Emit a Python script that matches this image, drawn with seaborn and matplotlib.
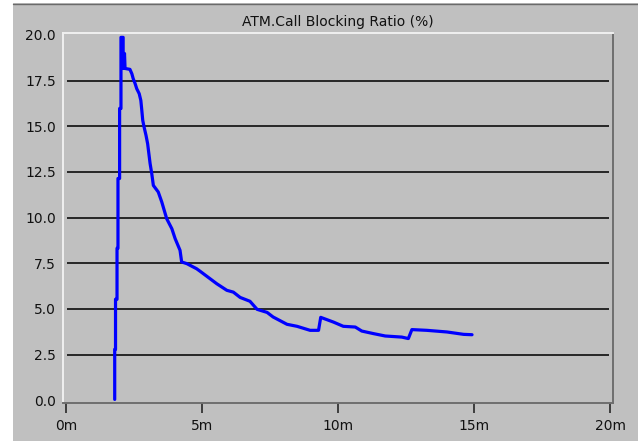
import numpy as np
import pandas as pd
import matplotlib
matplotlib.use("Agg")
import matplotlib.pyplot as plt
from matplotlib.patches import Rectangle
from matplotlib.lines import Line2D
import seaborn as sns

# Simulation time (minutes) and call blocking ratio (%)
time_min = [1.79, 1.79, 1.82, 1.82, 1.875, 1.875, 1.91, 1.91, 1.97, 1.97,
            2.02, 2.02, 2.10, 2.10, 2.15, 2.17, 2.35, 2.42, 2.47, 2.54,
            2.60, 2.69, 2.75, 2.78, 2.82, 2.87, 2.94, 3.00, 3.09, 3.15,
            3.21, 3.39, 3.52, 3.70, 3.89, 4.01, 4.19, 4.25, 4.44, 4.80,
            4.93, 5.54, 5.91, 6.15, 6.40, 6.76, 7.02, 7.39, 7.61, 8.12,
            8.49, 8.97, 9.28, 9.36, 9.83, 10.19, 10.63, 10.87, 11.30, 11.73,
            12.34, 12.58, 12.71, 13.26, 14.00, 14.61, 14.92]
blocking_pct = [0.05, 2.79, 2.79, 5.53, 5.53, 8.32, 8.32, 12.14, 12.14, 15.97,
                15.97, 19.86, 19.86, 18.16, 18.98, 18.16, 18.11, 17.87, 17.60, 17.33,
                17.05, 16.78, 16.41, 15.96, 15.32, 14.95, 14.50, 14.04, 12.96, 12.42,
                11.76, 11.40, 10.85, 9.94, 9.39, 8.85, 8.21, 7.57, 7.48, 7.20,
                7.06, 6.38, 6.02, 5.92, 5.63, 5.42, 4.98, 4.81, 4.56, 4.16,
                4.05, 3.83, 3.83, 4.54, 4.28, 4.05, 4.01, 3.79, 3.65, 3.52,
                3.46, 3.38, 3.87, 3.83, 3.74, 3.61, 3.59]

y_ticks = [0.0, 2.5, 5.0, 7.5, 10.0, 12.5, 15.0, 17.5, 20.0]
x_ticks = [0, 5, 10, 15, 20]
x_labels = ["0m", "5m", "10m", "15m", "20m"]
title = "ATM.Call Blocking Ratio (%)"

df = pd.DataFrame({"time": time_min, "ratio": blocking_pct})

sns.set_style("white")
plt.rcParams["font.family"] = ["DejaVu Sans"]

W, H = 638, 441
fig = plt.figure(figsize=(W / 100, H / 100), dpi=100, facecolor="white")

panel_gray = "#c0c0c0"
# Window panel behind the chart
fig.add_artist(Rectangle((13 / W, 0), 1 - 13 / W, 1 - 3 / H,
                         transform=fig.transFigure, facecolor=panel_gray,
                         edgecolor="none", zorder=0))
fig.add_artist(Line2D([13 / W, 1], [1 - 3.5 / H, 1 - 3.5 / H],
                      transform=fig.transFigure, color="#6a6a6a", lw=1.0))

left, right, top, bottom = 63, 613, 33, 402.7
ax = fig.add_axes([left / W, 1 - bottom / H, (right - left) / W, (bottom - top) / H])
ax.set_facecolor(panel_gray)

# Horizontal reference lines
for yv in y_ticks[1:-1]:
    ax.hlines(yv, 0.03, 19.97, color="#1a1a1a", lw=1.3, zorder=1)

sns.lineplot(data=df, x="time", y="ratio", ax=ax, estimator=None, sort=False,
             color="#0000ff", lw=2.3, zorder=3)

ax.set_xlim(-0.11, 20.1)
ax.set_ylim(-0.13, 20.1)
ax.set_xticks(x_ticks)
ax.set_xticklabels(x_labels)
ax.set_yticks(y_ticks)
ax.set_yticklabels([f"{v:.1f}" for v in y_ticks])
ax.set_xlabel("")
ax.set_ylabel("")

ax.tick_params(axis="y", left=False, length=0, pad=5, labelsize=10, labelcolor="#111111")
ax.tick_params(axis="x", bottom=True, direction="out", length=7.5, width=1.3,
               color="#333333", pad=4, labelsize=10, labelcolor="#111111")

for side, col in (("left", "#f0f0f0"), ("top", "#f0f0f0"),
                  ("right", "#6e6e6e"), ("bottom", "#6e6e6e")):
    ax.spines[side].set_visible(True)
    ax.spines[side].set_color(col)
    ax.spines[side].set_linewidth(1.4)

ax.set_title(title, fontsize=10, color="#111111", pad=5)

fig.savefig("out.png", dpi=100, facecolor="white")
